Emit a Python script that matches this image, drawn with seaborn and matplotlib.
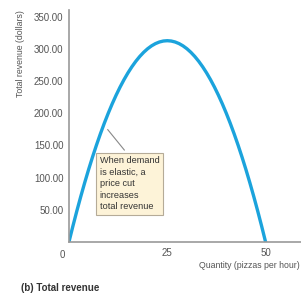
import matplotlib.pyplot as plt
import seaborn as sns
import pandas as pd

# total revenue schedule (pizzas per hour, dollars)
quantity = list(range(0, 51))
revenue = [0, 24.5, 48, 70.5, 92, 112.5, 132, 150.5, 168, 184.5,
           200, 214.5, 228, 240.5, 252, 262.5, 272, 280.5, 288, 294.5,
           300, 304.5, 308, 310.5, 312, 312.5, 312, 310.5, 308, 304.5,
           300, 294.5, 288, 280.5, 272, 262.5, 252, 240.5, 228, 214.5,
           200, 184.5, 168, 150.5, 132, 112.5, 92, 70.5, 48, 24.5, 0]
y_ticks = [50, 100, 150, 200, 250, 300, 350]
x_ticks = [25, 50]

df = pd.DataFrame({"q": quantity, "tr": revenue})

sns.set_style("white")
plt.rcParams["font.family"] = ["Liberation Sans", "DejaVu Sans"]

fig = plt.figure(figsize=(3.01, 2.97), dpi=100)
ax = fig.add_axes([0.229, 0.185, 0.771, 0.781])

sns.lineplot(data=df, x="q", y="tr", ax=ax, color="#1ba3dc", linewidth=2.4)

ax.set_xlim(0, 59)
ax.set_ylim(0, 360)
ax.set_xticks(x_ticks)
ax.set_yticks(y_ticks)
ax.set_yticklabels([f"{v:.2f}" for v in y_ticks])
ax.tick_params(direction="in", length=3, width=0.8, colors="#777777",
               labelsize=7, labelcolor="#555555", pad=4)
for side in ["top", "right"]:
    ax.spines[side].set_visible(False)
for side in ["left", "bottom"]:
    ax.spines[side].set_color("#999999")
    ax.spines[side].set_linewidth(1.2)

ax.set_xlabel("")
ax.set_ylabel("")
ax.text(-0.03, -0.055, "0", transform=ax.transAxes, fontsize=7, color="#555555",
        ha="center", va="center")
fig.text(0.995, 0.105, "Quantity (pizzas per hour)", ha="right", va="center",
         fontsize=6.3, color="#555555")
fig.text(0.068, 0.82, "Total revenue (dollars)", rotation=90, ha="center", va="center",
         fontsize=6.3, color="#555555")
fig.text(0.07, 0.03, "(b) Total revenue", ha="left", va="center",
         fontsize=7, fontweight="bold", color="#333333")

ax.annotate("When demand\nis elastic, a\nprice cut\nincreases\ntotal revenue",
            xy=(9.4, 178), xytext=(7.8, 133), ha="left", va="top",
            fontsize=6.6, color="#333333", linespacing=1.35,
            bbox=dict(boxstyle="square,pad=0.4", fc="#fdf3d8", ec="#b5ab98", lw=0.8),
            arrowprops=dict(arrowstyle="-", color="#888888", lw=0.8,
                            relpos=(0.5, 1.0)))

plt.savefig("out.png", dpi=100)
